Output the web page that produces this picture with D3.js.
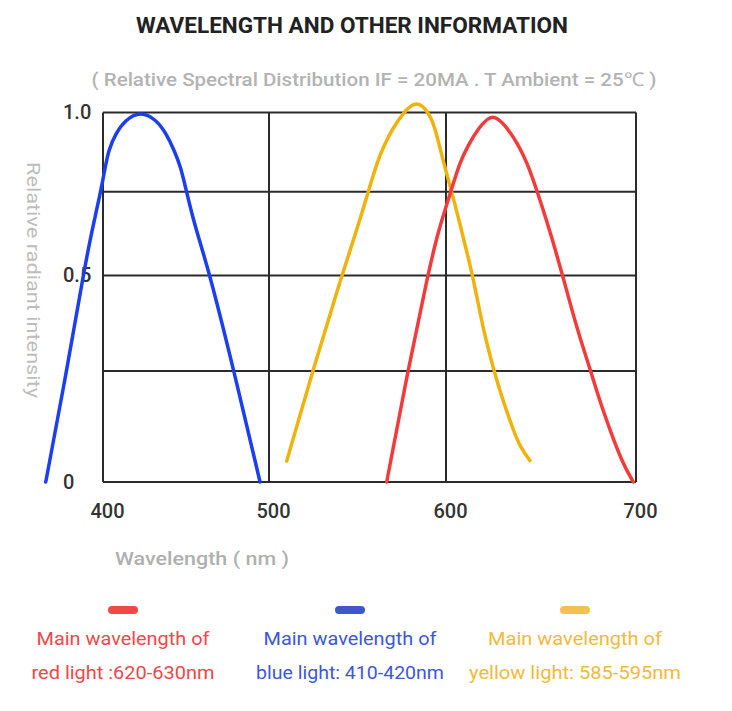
<!DOCTYPE html>
<html>
<head>
<meta charset="utf-8">
<script src="https://cdn.jsdelivr.net/npm/d3@7"></script>
<style>
  body { margin: 0; background: #fff; }
  svg { display: block; font-family: Roboto, "Liberation Sans", sans-serif; }
</style>
</head>
<body>
<svg width="732" height="711"></svg>
<script>
// wavelength (nm) / relative intensity
var blueNm  = [365.5, 378.1, 388.1, 392.2, 395.2, 398.6, 401.4, 403.4, 407.7, 413.3, 422.7, 432.3, 438.0, 442.8, 446.8, 450.3, 454.0, 458.0, 464.5, 478.9, 494.6];
var blueVal = [0, 0.25, 0.5, 0.606, 0.675, 0.75, 0.829, 0.882, 0.934, 0.976, 1.005, 0.976, 0.934, 0.882, 0.829, 0.75, 0.675, 0.606, 0.5, 0.25, 0];

var yellowNm  = [510.0, 524.7, 541.1, 549.9, 556.1, 561.2, 565.1, 569.9, 575.9, 583.4, 590.4, 593.8, 596.2, 598.5, 603.0, 607.9, 610.0, 614.1, 619.6, 625.3, 629.3, 635.4, 638.9, 644.2];
var yellowVal = [0.047, 0.25, 0.5, 0.641, 0.75, 0.845, 0.897, 0.95, 1.0, 1.04, 1.0, 0.95, 0.897, 0.845, 0.75, 0.641, 0.591, 0.5, 0.357, 0.25, 0.192, 0.117, 0.08, 0.048];

var redNm  = [566.5, 578.4, 589.7, 593.8, 596.2, 602.5, 607.4, 611.7, 617.0, 624.6, 632.5, 638.1, 642.5, 648.1, 654.2, 656.8, 661.4, 669.1, 676.2, 680.2, 686.3, 693.0, 698.6];
var redVal = [0, 0.25, 0.5, 0.591, 0.641, 0.75, 0.845, 0.897, 0.95, 1.003, 0.95, 0.897, 0.845, 0.75, 0.641, 0.591, 0.5, 0.357, 0.25, 0.192, 0.117, 0.042, 0];

var xTicks = [400, 500, 600, 700];
var yGrid = [0, 0.25, 0.5, 0.75, 1];
var yTicks = [0, 0.5, 1];
var yTickLabels = ["0", "0.5", "1.0"];

var legendLine1 = ["Main wavelength of", "Main wavelength of", "Main wavelength of"];
var legendLine2 = ["red light :620-630nm", "blue light: 410-420nm", "yellow light: 585-595nm"];

var svg = d3.select("svg");

// the printed chart does not space its grid evenly, so both scales are piecewise
var x = d3.scaleLinear().domain(xTicks).range([103, 269, 446, 636]);
var y = d3.scaleLinear().domain(yGrid).range([482, 371, 275.5, 191.7, 112.5]);

svg.append("text")
  .attr("x", 352).attr("y", 33)
  .attr("text-anchor", "middle")
  .attr("textLength", 432).attr("lengthAdjust", "spacingAndGlyphs")
  .style("font-size", "22px").style("font-weight", 700).style("fill", "#222")
  .text("WAVELENGTH AND OTHER INFORMATION");

svg.append("text")
  .attr("x", 374).attr("y", 86)
  .attr("text-anchor", "middle")
  .attr("textLength", 565).attr("lengthAdjust", "spacingAndGlyphs")
  .style("font-size", "19px").style("font-weight", 500).style("fill", "#b3b3b3")
  .text("( Relative Spectral Distribution IF = 20MA . T Ambient = 25℃ )");

// grid + frame
var grid = svg.append("g").style("stroke", "#2b2b2b").style("stroke-width", 2);
grid.selectAll("line.v").data(xTicks).enter().append("line")
  .attr("class", "v")
  .attr("x1", function(d){ return x(d); }).attr("x2", function(d){ return x(d); })
  .attr("y1", y(1)).attr("y2", y(0));
grid.selectAll("line.h").data(yGrid).enter().append("line")
  .attr("class", "h")
  .attr("x1", x(400)).attr("x2", x(700))
  .attr("y1", function(d){ return y(d); }).attr("y2", function(d){ return y(d); });

// tick labels
var xAxis = svg.append("g")
  .attr("transform", "translate(0," + y(0) + ")")
  .call(d3.axisBottom(x).tickValues(xTicks).tickSize(0).tickPadding(22).tickFormat(d3.format("d")));
xAxis.select(".domain").remove();
xAxis.selectAll("text")
  .attr("dx", 4)
  .style("font-family", "Roboto, sans-serif").style("font-size", "20px")
  .style("font-weight", 500).style("fill", "#333");

var yAxis = svg.append("g")
  .attr("transform", "translate(63,0)")
  .call(d3.axisLeft(y).tickValues(yTicks).tickSize(0).tickFormat(function(d, i){ return yTickLabels[i]; }));
yAxis.select(".domain").remove();
yAxis.selectAll("text")
  .attr("x", 0).attr("text-anchor", "start")
  .style("font-family", "Roboto, sans-serif").style("font-size", "20px")
  .style("font-weight", 500).style("fill", "#333");

svg.append("text")
  .attr("transform", "translate(27,280) rotate(90)")
  .attr("text-anchor", "middle")
  .attr("textLength", 236).attr("lengthAdjust", "spacingAndGlyphs")
  .style("font-size", "18px").style("fill", "#bdbdbd")
  .text("Relative radiant intensity");

svg.append("text")
  .attr("x", 202).attr("y", 565)
  .attr("text-anchor", "middle")
  .attr("textLength", 174).attr("lengthAdjust", "spacingAndGlyphs")
  .style("font-size", "19px").style("font-weight", 500).style("fill", "#b0b0b0")
  .text("Wavelength ( nm )");

// curves (basis smooths out the reading jitter)
var line = d3.line()
  .x(function(d){ return x(d[0]); })
  .y(function(d){ return y(d[1]); })
  .curve(d3.curveBasis);

var series = [
  { nm: blueNm, val: blueVal, color: "#1b3ff0" },
  { nm: yellowNm, val: yellowVal, color: "#f0b20c" },
  { nm: redNm, val: redVal, color: "#f43b3b" }
];

svg.selectAll("path.curve").data(series).enter().append("path")
  .attr("class", "curve")
  .attr("d", function(s){ return line(d3.zip(s.nm, s.val)); })
  .style("fill", "none")
  .style("stroke", function(s){ return s.color; })
  .style("stroke-width", 3.5)
  .style("stroke-linecap", "round");

// legend
var legendX = [123, 350, 575];
var swatchColor = ["#f24848", "#3f58c9", "#f2c14f"];
var textColor = ["#f0484a", "#3d57db", "#f1ba3c"];
var lineW1 = [173, 173, 174];
var lineW2 = [183, 188, 212];

var leg = svg.selectAll("g.leg").data(legendX).enter().append("g")
  .attr("class", "leg")
  .attr("transform", function(d){ return "translate(" + d + ",0)"; });
leg.append("rect")
  .attr("x", -15).attr("y", 606).attr("width", 30).attr("height", 8).attr("rx", 4)
  .style("fill", function(d, i){ return swatchColor[i]; });
leg.append("text")
  .attr("y", 645).attr("text-anchor", "middle")
  .attr("textLength", function(d, i){ return lineW1[i]; }).attr("lengthAdjust", "spacingAndGlyphs")
  .style("font-size", "18px").style("fill", function(d, i){ return textColor[i]; })
  .text(function(d, i){ return legendLine1[i]; });
leg.append("text")
  .attr("y", 679).attr("text-anchor", "middle")
  .attr("textLength", function(d, i){ return lineW2[i]; }).attr("lengthAdjust", "spacingAndGlyphs")
  .style("font-size", "18px").style("fill", function(d, i){ return textColor[i]; })
  .text(function(d, i){ return legendLine2[i]; });
</script>
</body>
</html>
